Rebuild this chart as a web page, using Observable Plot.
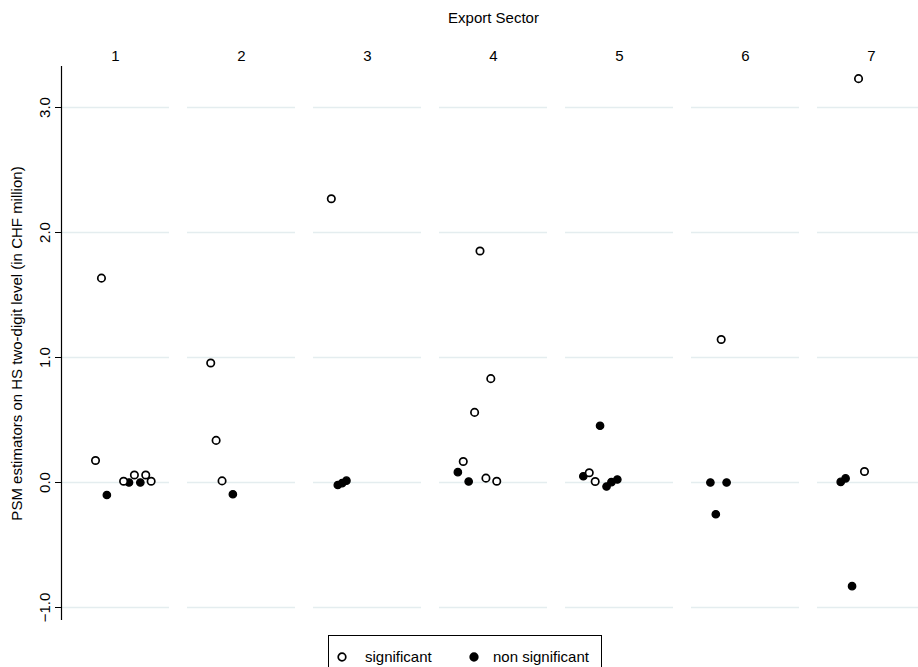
<!DOCTYPE html>
<html>
<head>
<meta charset="utf-8">
<script src="https://cdn.jsdelivr.net/npm/d3@7"></script>
<script src="https://cdn.jsdelivr.net/npm/@observablehq/plot@0.6"></script>
<style>
  body { margin: 0; overflow: hidden; background: #fff; font-family: "Liberation Sans", Arial, sans-serif; }
  #wrap { position: relative; width: 918px; height: 667px; overflow: hidden; }
  #chart { position: absolute; left: 0; top: 0; width: 926px; }
  #chart svg { max-width: none !important; }
  #legend { position: absolute; left: 328px; top: 635px; width: 274px; height: 44px; border: 1px solid #000; box-sizing: border-box; font-size: 15px; color: #000; background: #fff; }
  #legend .sym { position: absolute; top: 15px; width: 12px; height: 12px; }
  #legend .lab { position: absolute; top: 12px; line-height: 18px; white-space: nowrap; }
</style>
</head>
<body>
<div id="wrap">
  <div id="chart"></div>
  <div id="legend"></div>
</div>
<script>
// Export sector of each estimate
const sectors = [
  1, 1, 1, 1, 1, 1, 1, 1, 1,
  2, 2, 2, 2,
  3, 3, 3, 3,
  4, 4, 4, 4, 4, 4, 4, 4,
  5, 5, 5, 5, 5, 5, 5,
  6, 6, 6, 6,
  7, 7, 7, 7, 7
];
// PSM estimate (CHF million)
const values = [
  0.176, 1.635, -0.10, 0.01, 0.0, 0.06, 0.0, 0.06, 0.01,
  0.956, 0.337, 0.013, -0.094,
  2.27, -0.02, -0.005, 0.015,
  1.852, 0.831, 0.561, 0.168, 0.083, 0.008, 0.035, 0.01,
  0.454, 0.05, 0.078, 0.008, -0.032, 0.003, 0.024,
  1.144, 0.0, 0.0, -0.254,
  3.231, 0.088, 0.005, 0.033, -0.829
];
// horizontal jitter within each sector panel (-1 .. 1)
const jitter = [
  -0.37, -0.26, -0.16, 0.15, 0.25, 0.35, 0.46, 0.56, 0.66,
  -0.57, -0.47, -0.36, -0.16,
  -0.67, -0.55, -0.47, -0.39,
  -0.25, -0.05, -0.35, -0.56, -0.66, -0.46, -0.14, 0.06,
  -0.36, -0.67, -0.56, -0.45, -0.24, -0.15, -0.04,
  -0.45, -0.65, -0.35, -0.55,
  -0.24, -0.13, -0.57, -0.48, -0.36
];
// significance flag
const significance = [
  "s", "s", "n", "s", "n", "s", "n", "s", "s",
  "s", "s", "s", "n",
  "s", "n", "n", "n",
  "s", "s", "s", "s", "n", "n", "s", "s",
  "n", "n", "s", "s", "n", "n", "n",
  "s", "n", "n", "n",
  "s", "s", "n", "n", "n"
];
const sectorLabels = [1, 2, 3, 4, 5, 6, 7];
const yTicks = [-1, 0, 1, 2, 3];
const legendLabels = ["significant", "non significant"];
const titleText = "Export Sector";
const yLabel = "PSM estimators on HS two-digit level (in CHF million)";

const data = sectors.map((s, i) => ({sector: s, value: values[i], jitter: jitter[i], sig: significance[i]}));

const chart = Plot.plot({
  width: 926,
  height: 630,
  marginLeft: 61,
  marginRight: 0,
  marginTop: 66,
  marginBottom: 10,
  style: {fontFamily: "'Liberation Sans', Arial, sans-serif", fontSize: "15px", background: "white", color: "black", maxWidth: "none"},
  fx: {domain: sectorLabels, paddingInner: 0.14, paddingOuter: 0},
  x: {domain: [-1, 1], axis: null},
  y: {domain: [-1.104, 3.328]},
  marks: [
    Plot.ruleY(yTicks, {stroke: "#e4edef", strokeWidth: 1.6}),
    Plot.axisFx({anchor: "top", tickSize: 0, tickPadding: 6, fontSize: 15, label: titleText, labelAnchor: "center", labelOffset: 54}),
    Plot.axisY({ticks: yTicks, tickFormat: d3.format(".1f"), tickRotate: -90, tickSize: 6, tickPadding: 6, fontSize: 15,
      label: yLabel, labelAnchor: "center", labelArrow: "none", labelOffset: 50}),
    Plot.ruleX([sectorLabels[0]], {fx: d => d, x: () => -1, stroke: "black", strokeWidth: 1.2}),
    Plot.dot(data.filter(d => d.sig === "n"), {fx: "sector", x: "jitter", y: "value", r: 3.7, fill: "black", stroke: "black", strokeWidth: 1.3}),
    Plot.dot(data.filter(d => d.sig === "s"), {fx: "sector", x: "jitter", y: "value", r: 3.7, fill: "white", stroke: "black", strokeWidth: 1.7})
  ]
});
chart.style.maxWidth = "none";
document.getElementById("chart").appendChild(chart);

// legend
const legend = document.getElementById("legend");
const items = [
  {label: legendLabels[0], fill: "white", sx: 7, tx: 36},
  {label: legendLabels[1], fill: "black", sx: 139, tx: 164}
];
items.forEach(it => {
  const s = document.createElementNS("http://www.w3.org/2000/svg", "svg");
  s.setAttribute("class", "sym");
  s.setAttribute("width", 12); s.setAttribute("height", 12);
  s.style.left = it.sx + "px";
  s.innerHTML = `<circle cx="6" cy="6" r="3.8" fill="${it.fill}" stroke="black" stroke-width="1.7"/>`;
  legend.appendChild(s);
  const t = document.createElement("span");
  t.className = "lab";
  t.style.left = it.tx + "px";
  t.textContent = it.label;
  legend.appendChild(t);
});
</script>
</body>
</html>
